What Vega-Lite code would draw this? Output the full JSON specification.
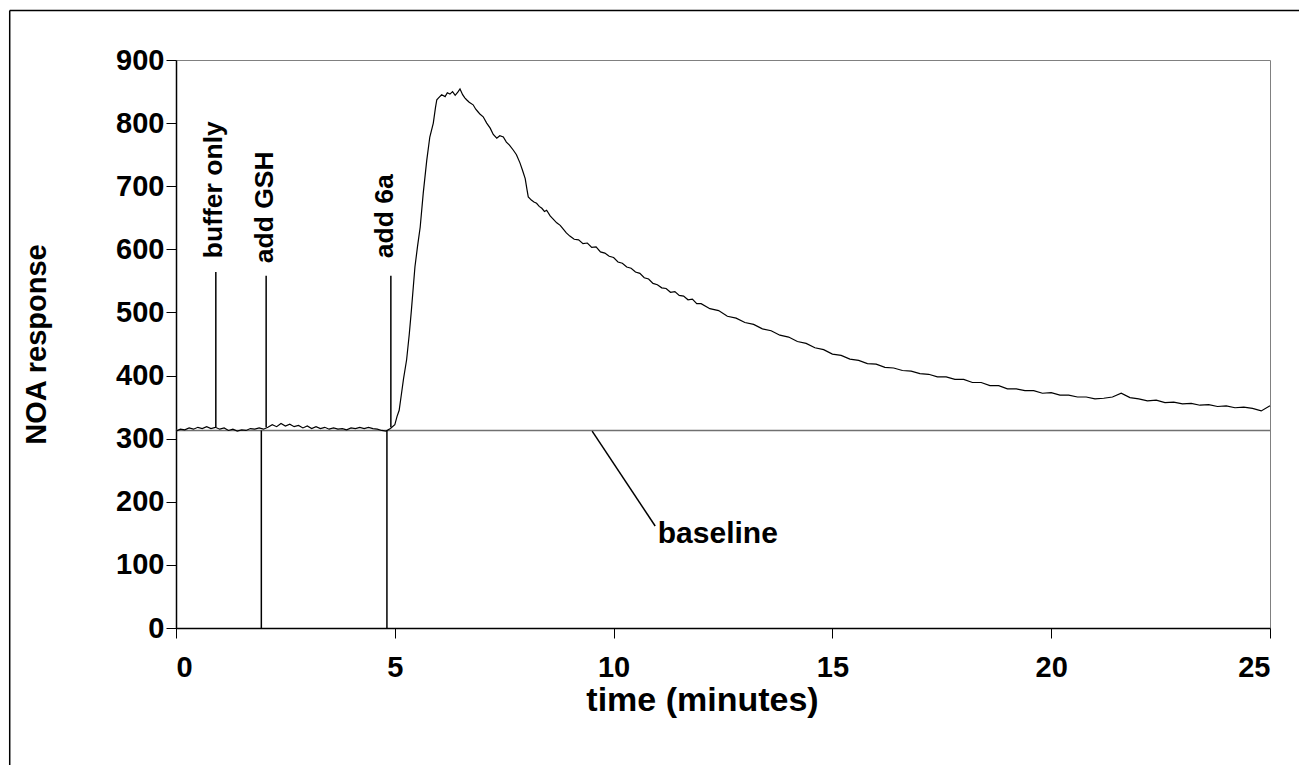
{
  "$schema": "https://vega.github.io/schema/vega-lite/v6.json",
  "width": 1094,
  "height": 568,
  "autosize": "none",
  "padding": {"left": 176, "top": 60, "right": 29, "bottom": 137},
  "background": "white",
  "config": {
    "view": {"stroke": "#808080", "strokeWidth": 1},
    "font": "Liberation Sans",
    "axis": {
      "grid": false,
      "domainColor": "black",
      "domainWidth": 1.5,
      "tickColor": "black",
      "tickWidth": 1,
      "tickSize": 10,
      "labelFont": "Liberation Sans",
      "labelFontWeight": "bold",
      "labelFontSize": 29,
      "labelColor": "black",
      "titleFont": "Liberation Sans",
      "titleFontWeight": "bold",
      "titleColor": "black"
    }
  },
  "datasets": {
    "trace": [
      {"t": 0.0, "v": 312}, {"t": 0.1, "v": 315}, {"t": 0.2, "v": 314}, {"t": 0.3, "v": 317}, {"t": 0.4, "v": 315},
      {"t": 0.5, "v": 318}, {"t": 0.6, "v": 316}, {"t": 0.7, "v": 319}, {"t": 0.8, "v": 316}, {"t": 0.9, "v": 318},
      {"t": 1.0, "v": 315}, {"t": 1.1, "v": 317}, {"t": 1.2, "v": 313}, {"t": 1.3, "v": 315}, {"t": 1.4, "v": 312},
      {"t": 1.5, "v": 314}, {"t": 1.6, "v": 313}, {"t": 1.7, "v": 316}, {"t": 1.8, "v": 315}, {"t": 1.9, "v": 317},
      {"t": 2.0, "v": 315}, {"t": 2.1, "v": 318}, {"t": 2.2, "v": 322}, {"t": 2.3, "v": 319}, {"t": 2.4, "v": 324},
      {"t": 2.5, "v": 320}, {"t": 2.6, "v": 323}, {"t": 2.7, "v": 319}, {"t": 2.8, "v": 321}, {"t": 2.9, "v": 317},
      {"t": 3.0, "v": 320}, {"t": 3.1, "v": 316}, {"t": 3.2, "v": 319}, {"t": 3.3, "v": 316}, {"t": 3.4, "v": 318},
      {"t": 3.5, "v": 315}, {"t": 3.6, "v": 317}, {"t": 3.7, "v": 315}, {"t": 3.8, "v": 316}, {"t": 3.9, "v": 314},
      {"t": 4.0, "v": 317}, {"t": 4.1, "v": 316}, {"t": 4.2, "v": 318}, {"t": 4.3, "v": 316}, {"t": 4.4, "v": 318},
      {"t": 4.5, "v": 316}, {"t": 4.6, "v": 315}, {"t": 4.7, "v": 313}, {"t": 4.8, "v": 312}, {"t": 4.9, "v": 316},
      {"t": 5.0, "v": 322}, {"t": 5.05, "v": 335}, {"t": 5.1, "v": 345}, {"t": 5.15, "v": 370}, {"t": 5.2, "v": 395},
      {"t": 5.27, "v": 425}, {"t": 5.33, "v": 465}, {"t": 5.38, "v": 504}, {"t": 5.46, "v": 572}, {"t": 5.52, "v": 605},
      {"t": 5.58, "v": 635}, {"t": 5.65, "v": 689}, {"t": 5.73, "v": 741}, {"t": 5.8, "v": 778}, {"t": 5.88, "v": 800},
      {"t": 5.93, "v": 825}, {"t": 5.96, "v": 837}, {"t": 6.0, "v": 840}, {"t": 6.07, "v": 845}, {"t": 6.15, "v": 842},
      {"t": 6.2, "v": 848}, {"t": 6.26, "v": 846}, {"t": 6.32, "v": 850}, {"t": 6.38, "v": 844}, {"t": 6.44, "v": 849},
      {"t": 6.49, "v": 854}, {"t": 6.55, "v": 845}, {"t": 6.6, "v": 840}, {"t": 6.64, "v": 837}, {"t": 6.7, "v": 833},
      {"t": 6.79, "v": 829}, {"t": 6.85, "v": 822}, {"t": 6.9, "v": 818}, {"t": 6.95, "v": 814}, {"t": 7.02, "v": 810},
      {"t": 7.1, "v": 800}, {"t": 7.18, "v": 792}, {"t": 7.25, "v": 782}, {"t": 7.33, "v": 776}, {"t": 7.4, "v": 780},
      {"t": 7.48, "v": 778}, {"t": 7.55, "v": 770}, {"t": 7.62, "v": 765}, {"t": 7.71, "v": 757}, {"t": 7.78, "v": 750},
      {"t": 7.86, "v": 737}, {"t": 7.92, "v": 725}, {"t": 7.98, "v": 712}, {"t": 8.02, "v": 695}, {"t": 8.05, "v": 683},
      {"t": 8.12, "v": 678}, {"t": 8.18, "v": 675}, {"t": 8.24, "v": 673}, {"t": 8.3, "v": 668}, {"t": 8.36, "v": 665},
      {"t": 8.42, "v": 660}, {"t": 8.47, "v": 662}, {"t": 8.55, "v": 653}, {"t": 8.62, "v": 648}, {"t": 8.7, "v": 642},
      {"t": 8.78, "v": 638}, {"t": 8.85, "v": 632}, {"t": 8.92, "v": 626}, {"t": 9.0, "v": 621}, {"t": 9.1, "v": 616},
      {"t": 9.2, "v": 615}, {"t": 9.3, "v": 609}, {"t": 9.4, "v": 610}, {"t": 9.5, "v": 603}, {"t": 9.6, "v": 604},
      {"t": 9.7, "v": 596}, {"t": 9.8, "v": 594}, {"t": 9.9, "v": 589}, {"t": 10.0, "v": 587}, {"t": 10.1, "v": 580},
      {"t": 10.2, "v": 578}, {"t": 10.3, "v": 572}, {"t": 10.4, "v": 570}, {"t": 10.5, "v": 564}, {"t": 10.6, "v": 562},
      {"t": 10.7, "v": 555}, {"t": 10.8, "v": 553}, {"t": 10.9, "v": 546}, {"t": 11.0, "v": 544}, {"t": 11.1, "v": 539},
      {"t": 11.2, "v": 538}, {"t": 11.3, "v": 532}, {"t": 11.4, "v": 533}, {"t": 11.5, "v": 527}, {"t": 11.6, "v": 526},
      {"t": 11.7, "v": 520}, {"t": 11.8, "v": 521}, {"t": 11.9, "v": 514}, {"t": 12.0, "v": 514}, {"t": 12.2, "v": 506},
      {"t": 12.4, "v": 503}, {"t": 12.6, "v": 494}, {"t": 12.8, "v": 491}, {"t": 13.0, "v": 484}, {"t": 13.2, "v": 481},
      {"t": 13.4, "v": 474}, {"t": 13.6, "v": 471}, {"t": 13.8, "v": 464}, {"t": 14.0, "v": 461}, {"t": 14.2, "v": 454},
      {"t": 14.4, "v": 451}, {"t": 14.6, "v": 444}, {"t": 14.8, "v": 441}, {"t": 15.0, "v": 434}, {"t": 15.2, "v": 432},
      {"t": 15.4, "v": 426}, {"t": 15.6, "v": 424}, {"t": 15.8, "v": 419}, {"t": 16.0, "v": 418}, {"t": 16.2, "v": 413},
      {"t": 16.4, "v": 412}, {"t": 16.6, "v": 408}, {"t": 16.8, "v": 407}, {"t": 17.0, "v": 403}, {"t": 17.2, "v": 402},
      {"t": 17.4, "v": 398}, {"t": 17.6, "v": 398}, {"t": 17.8, "v": 394}, {"t": 18.0, "v": 394}, {"t": 18.2, "v": 389},
      {"t": 18.4, "v": 389}, {"t": 18.6, "v": 384}, {"t": 18.8, "v": 384}, {"t": 19.0, "v": 379}, {"t": 19.2, "v": 379},
      {"t": 19.4, "v": 376}, {"t": 19.6, "v": 376}, {"t": 19.8, "v": 372}, {"t": 20.0, "v": 373}, {"t": 20.2, "v": 369},
      {"t": 20.4, "v": 369}, {"t": 20.6, "v": 366}, {"t": 20.8, "v": 366}, {"t": 21.0, "v": 363}, {"t": 21.2, "v": 364},
      {"t": 21.4, "v": 366}, {"t": 21.6, "v": 372}, {"t": 21.8, "v": 365}, {"t": 22.0, "v": 363}, {"t": 22.2, "v": 360},
      {"t": 22.4, "v": 361}, {"t": 22.6, "v": 357}, {"t": 22.8, "v": 358}, {"t": 23.0, "v": 355}, {"t": 23.2, "v": 356},
      {"t": 23.4, "v": 353}, {"t": 23.6, "v": 354}, {"t": 23.8, "v": 351}, {"t": 24.0, "v": 352}, {"t": 24.2, "v": 349},
      {"t": 24.4, "v": 350}, {"t": 24.6, "v": 348}, {"t": 24.8, "v": 344}, {"t": 25.0, "v": 352}
    ],
    "rules": [
      {"t": 0.91, "y1": 318, "y2": 564},
      {"t": 2.06, "y1": 318, "y2": 558},
      {"t": 4.91, "y1": 318, "y2": 558},
      {"t": 1.95, "y1": 0, "y2": 313},
      {"t": 4.82, "y1": 0, "y2": 313}
    ],
    "labels": [
      {"t": 0.87, "v": 586, "text": "buffer only"},
      {"t": 2.03, "v": 578, "text": "add GSH"},
      {"t": 4.78, "v": 586, "text": "add 6a"}
    ],
    "baseline": [
      {"t": 0, "t2": 25, "v": 313}
    ],
    "leader": [
      {"t": 9.51, "v": 312, "t2": 10.95, "v2": 161.6}
    ],
    "note": [
      {"t": 11.01, "v": 149, "text": "baseline"}
    ]
  },
  "layer": [
    {
      "data": {"name": "baseline"},
      "mark": {"type": "rule", "color": "#707070", "strokeWidth": 1.5},
      "encoding": {
        "x": {"field": "t", "type": "quantitative", "scale": {"domain": [0, 25], "nice": false, "zero": false},
              "axis": {"values": [0, 5, 10, 15, 20, 25], "title": "time (minutes)", "titleFontSize": 34, "labelPadding": 15, "titleX": 526, "titleAlign": "center", "titleY": 82, "titleBaseline": "alphabetic"}},
        "x2": {"field": "t2"},
        "y": {"field": "v", "type": "quantitative", "scale": {"domain": [0, 900], "nice": false},
              "axis": {"values": [0, 100, 200, 300, 400, 500, 600, 700, 800, 900], "title": "NOA response", "titleFontSize": 29, "labelPadding": 2, "titleX": -131, "titleBaseline": "alphabetic"}}
      }
    },
    {
      "data": {"name": "trace"},
      "mark": {"type": "line", "color": "black", "strokeWidth": 1.2},
      "encoding": {
        "x": {"field": "t", "type": "quantitative"},
        "y": {"field": "v", "type": "quantitative"}
      }
    },
    {
      "data": {"name": "rules"},
      "mark": {"type": "rule", "color": "black", "strokeWidth": 1.5},
      "encoding": {
        "x": {"field": "t", "type": "quantitative"},
        "y": {"field": "y1", "type": "quantitative"},
        "y2": {"field": "y2"}
      }
    },
    {
      "data": {"name": "leader"},
      "mark": {"type": "rule", "color": "black", "strokeWidth": 1.5},
      "encoding": {
        "x": {"field": "t", "type": "quantitative"},
        "x2": {"field": "t2"},
        "y": {"field": "v", "type": "quantitative"},
        "y2": {"field": "v2"}
      }
    },
    {
      "data": {"name": "labels"},
      "mark": {"type": "text", "angle": 270, "align": "left", "baseline": "middle", "font": "Liberation Sans", "fontWeight": "bold", "fontSize": 26.5, "color": "black"},
      "encoding": {
        "x": {"field": "t", "type": "quantitative"},
        "y": {"field": "v", "type": "quantitative"},
        "text": {"field": "text"}
      }
    },
    {
      "data": {"name": "note"},
      "mark": {"type": "text", "align": "left", "baseline": "middle", "font": "Liberation Sans", "fontWeight": "bold", "fontSize": 30, "color": "black"},
      "encoding": {
        "x": {"field": "t", "type": "quantitative"},
        "y": {"field": "v", "type": "quantitative"},
        "text": {"field": "text"}
      }
    },
    {
      "data": {"values": [{}]},
      "mark": {"type": "rule", "color": "black", "strokeWidth": 1.5},
      "encoding": {
        "x": {"datum": -3.8, "type": "quantitative"},
        "y": {"datum": -300, "type": "quantitative"},
        "y2": {"datum": 978.5}
      }
    },
    {
      "data": {"values": [{}]},
      "mark": {"type": "rule", "color": "black", "strokeWidth": 1.5},
      "encoding": {
        "x": {"datum": -3.8, "type": "quantitative"},
        "x2": {"datum": 30},
        "y": {"datum": 978.5, "type": "quantitative"}
      }
    }
  ]
}
